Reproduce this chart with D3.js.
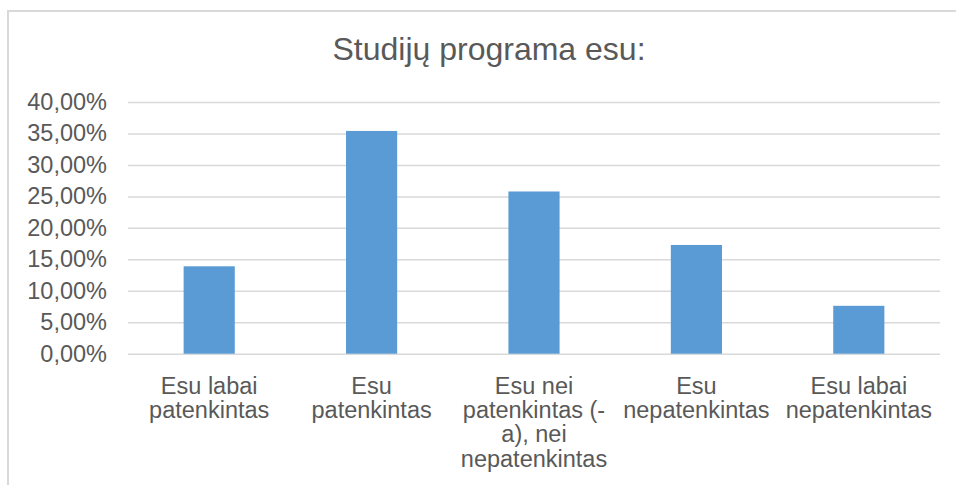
<!DOCTYPE html>
<html>
<head>
<meta charset="utf-8">
<script src="https://cdn.jsdelivr.net/npm/d3@7"></script>
<style>
  body { margin: 0; background: #fff; }
  text { font-family: "Liberation Sans", Arial, sans-serif; fill: #595959; }
</style>
</head>
<body>
<div id="chart"></div>
<script>
// kategorijos (eilutės laužomos kaip Excel'yje)
const categories = [
    'Esu labai\npatenkintas',
    'Esu\npatenkintas',
    'Esu nei\npatenkintas (-\na), nei\nnepatenkintas',
    'Esu\nnepatenkintas',
    'Esu labai\nnepatenkintas'
];
const values = [13.89, 35.40, 25.78, 17.28, 7.61];
const yTicks = [0, 5, 10, 15, 20, 25, 30, 35, 40];
const title = 'Studijų programa esu:';

const W = 956, H = 485;
const margin = {top: 102, right: 16, bottom: 131, left: 128};

let $svg = d3.select('#chart').append('svg')
    .attr('width', W)
    .attr('height', H);

// chart area border (goes past the right/bottom edge)
$svg.append('rect')
    .attr('x', 8).attr('y', 11)
    .attr('width', 980).attr('height', 500)
    .attr('fill', '#fff')
    .attr('stroke', '#d9d9d9')
    .attr('stroke-width', 2);

$svg.append('text')
    .attr('x', 489).attr('y', 60)
    .attr('text-anchor', 'middle')
    .style('font-size', '32px')
    .text(title);

let x = d3.scaleBand()
    .domain(categories)
    .range([margin.left, W - margin.right])
    .paddingInner(0.685)
    .paddingOuter(0.3425);

let y = d3.scaleLinear()
    .domain([0, 40])
    .range([H - margin.bottom - 0.3, margin.top]);

let fmt = v => d3.format('.2f')(v).replace('.', ',') + '%';

// gridlines + y labels
let yAxis = d3.axisLeft(y)
    .tickValues(yTicks)
    .tickSize(-(W - margin.right - margin.left))
    .tickPadding(21)
    .tickFormat(fmt);

let $gy = $svg.append('g')
    .attr('transform', `translate(${margin.left},0)`)
    .call(yAxis);
$gy.select('.domain').remove();
$gy.selectAll('line')
    .attr('stroke', '#d9d9d9')
    .attr('stroke-width', 1.5);
$gy.selectAll('text')
    .style('font-size', '23.5px')
    .attr('fill', '#595959')
    .style('font-family', '"Liberation Sans", Arial, sans-serif');

// bars
$svg.append('g')
    .selectAll('rect')
    .data(values)
    .join('rect')
    .attr('x', (d, i) => x(categories[i]))
    .attr('y', d => y(d))
    .attr('width', x.bandwidth())
    .attr('height', d => y(0) - y(d))
    .attr('fill', '#5b9bd5');

// x labels
let $xl = $svg.append('g')
    .selectAll('text')
    .data(categories)
    .join('text')
    .attr('text-anchor', 'middle')
    .attr('transform', d => `translate(${x(d) + x.bandwidth() / 2},${y(0) + 40})`)
    .style('font-size', '23.5px');
$xl.selectAll('tspan')
    .data(d => d.split('\n'))
    .join('tspan')
    .attr('x', 0)
    .attr('y', (d, i) => i * 24.3)
    .text(d => d);
</script>
</body>
</html>
